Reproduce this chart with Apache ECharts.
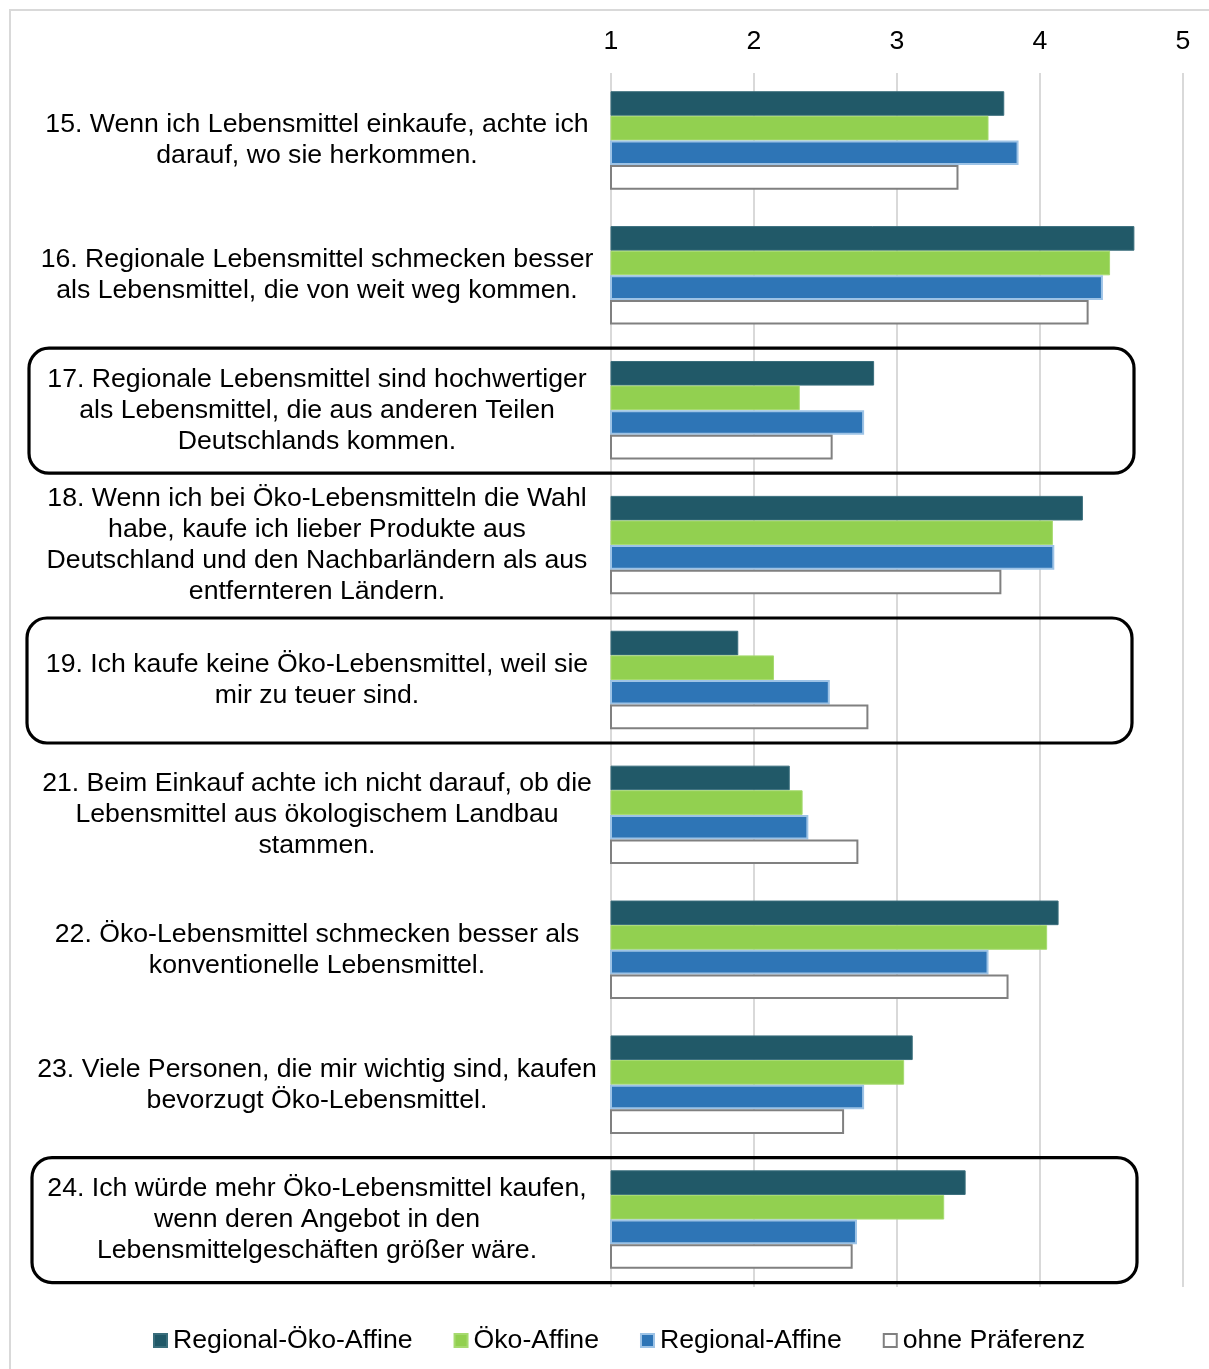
<!DOCTYPE html>
<html>
<head>
<meta charset="utf-8">
<script src="https://cdn.jsdelivr.net/npm/echarts@6/dist/echarts.min.js"></script>
<style>
  html, body { margin: 0; padding: 0; background: #fff; }
  #chart { width: 1209px; height: 1369px; }
</style>
</head>
<body>
<div id="chart"></div>
<script>
// Statements (y categories), top to bottom
const statements = [
  '15. Wenn ich Lebensmittel einkaufe, achte ich\ndarauf, wo sie herkommen.',
  '16. Regionale Lebensmittel schmecken besser\nals Lebensmittel, die von weit weg kommen.',
  '17. Regionale Lebensmittel sind hochwertiger\nals Lebensmittel, die aus anderen Teilen\nDeutschlands kommen.',
  '18. Wenn ich bei Öko-Lebensmitteln die Wahl\nhabe, kaufe ich lieber Produkte aus\nDeutschland und den Nachbarländern als aus\nentfernteren Ländern.',
  '19. Ich kaufe keine Öko-Lebensmittel, weil sie\nmir zu teuer sind.',
  '21. Beim Einkauf achte ich nicht darauf, ob die\nLebensmittel aus ökologischem Landbau\nstammen.',
  '22. Öko-Lebensmittel schmecken besser als\nkonventionelle Lebensmittel.',
  '23. Viele Personen, die mir wichtig sind, kaufen\nbevorzugt Öko-Lebensmittel.',
  '24. Ich würde mehr Öko-Lebensmittel kaufen,\nwenn deren Angebot in den\nLebensmittelgeschäften größer wäre.'
];

// Mean agreement per group (scale 1–5)
const regionalOekoAffine = [3.75, 4.66, 2.84, 4.30, 1.89, 2.25, 4.13, 3.11, 3.48];
const oekoAffine         = [3.64, 4.49, 2.32, 4.09, 2.14, 2.34, 4.05, 3.05, 3.33];
const regionalAffine     = [3.85, 4.44, 2.77, 4.10, 2.53, 2.38, 3.64, 2.77, 2.72];
const ohnePraeferenz     = [3.43, 4.34, 2.55, 3.73, 2.80, 2.73, 3.78, 2.63, 2.69];

const groupNames = ['Regional-Öko-Affine', 'Öko-Affine', 'Regional-Affine', 'ohne Präferenz'];
const scaleTicks = [1, 2, 3, 4, 5];

// Statements that get a rounded frame around them, with the frame's left edge
const framed = [
  { index: 2, left: 29 },
  { index: 4, left: 27 },
  { index: 8, left: 32 }
];

const FONT = '"Liberation Sans", Arial, sans-serif';
const FS = 26.67;

const chart = echarts.init(document.getElementById('chart'), null, { renderer: 'canvas' });

const option = {
  backgroundColor: '#ffffff',
  animation: false,
  textStyle: { fontFamily: FONT, color: '#000' },
  grid: { left: 611, right: 26, top: 73, bottom: 82, containLabel: false },
  legend: {
    data: groupNames,
    left: 148,
    top: 1322,
    icon: 'rect',
    itemWidth: 13,
    itemHeight: 13,
    itemGap: 41,
    textStyle: { fontSize: FS, color: '#000', fontFamily: FONT, padding: [0, 0, 0, 1] }
  },
  xAxis: {
    type: 'value',
    position: 'top',
    min: scaleTicks[0],
    max: scaleTicks[scaleTicks.length - 1],
    interval: 1,
    axisLine: { show: false },
    axisTick: { show: false },
    axisLabel: {
      fontSize: FS,
      color: '#000',
      fontFamily: FONT,
      margin: 18,
      formatter: v => scaleTicks.includes(v) ? String(v) : ''
    },
    splitLine: { show: true, lineStyle: { color: '#d9d9d9', width: 2 } }
  },
  yAxis: {
    type: 'category',
    inverse: true,
    data: statements,
    axisLine: { show: false },
    axisTick: { show: false },
    axisLabel: {
      interval: 0,
      align: 'center',
      margin: 294,
      fontSize: FS,
      lineHeight: 31,
      padding: [3, 0, 0, 0],
      color: '#000',
      fontFamily: FONT
    }
  },
  series: [
    {
      name: groupNames[0], type: 'bar', data: regionalOekoAffine,
      barGap: '0%', barCategoryGap: '27%',
      itemStyle: { color: '#215968', borderColor: '#3a6e7c', borderWidth: 1 }
    },
    {
      name: groupNames[1], type: 'bar', data: oekoAffine,
      itemStyle: { color: '#92d050', borderColor: '#a6da6f', borderWidth: 1 }
    },
    {
      name: groupNames[2], type: 'bar', data: regionalAffine,
      itemStyle: { color: '#2e75b6', borderColor: '#9dc3e6', borderWidth: 2 }
    },
    {
      name: groupNames[3], type: 'bar', data: ohnePraeferenz,
      itemStyle: { color: '#ffffff', borderColor: '#808080', borderWidth: 2 }
    }
  ]
};

chart.setOption(option);

// Page frame and rounded frames around selected statements
const frames = framed.map(f => {
  const cy = chart.convertToPixel({ yAxisIndex: 0 }, statements[f.index]);
  return {
    type: 'rect',
    z: 100,
    shape: { x: f.left, y: cy - 62, width: 1105, height: 125, r: 20 },
    style: { fill: 'none', stroke: '#000', lineWidth: 3.2 }
  };
});

chart.setOption({
  graphic: [
    {
      type: 'rect',
      z: 0,
      shape: { x: 10, y: 10, width: 1300, height: 1400 },
      style: { fill: 'none', stroke: '#d9d9d9', lineWidth: 2 }
    }
  ].concat(frames)
});
</script>
</body>
</html>
